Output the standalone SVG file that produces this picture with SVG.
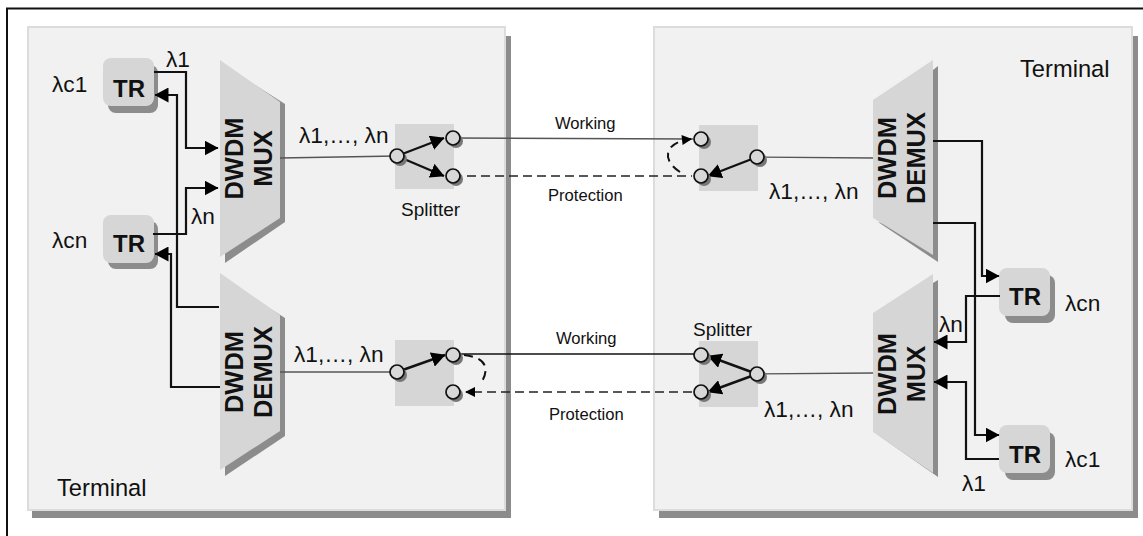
<svg xmlns="http://www.w3.org/2000/svg" width="1143" height="536" viewBox="0 0 1143 536">
<style>
text{font-family:"Liberation Sans",Arial,sans-serif;fill:#111}
.t{font-size:23.700px}
.l{font-size:22.700px}
.s{font-size:16.600px}
.sp{font-size:19px}
.b{font-size:24px;font-weight:bold}
.m{font-size:25.500px;font-weight:bold;text-anchor:middle}
.w{fill:none;stroke:#111;stroke-width:2.200}
.f{fill:none;stroke:#555;stroke-width:1.300}
.d{fill:none;stroke:#222;stroke-width:1.700;stroke-dasharray:9 5}
.a{fill:none;stroke:#111;stroke-width:2;stroke-dasharray:9 6}
.sw{fill:none;stroke:#111;stroke-width:2.400}
.box{fill:#d6d6d6}
.sh{fill:#8c8c8c}
.panel{fill:#f1f1f1;stroke:#dcdcdc;stroke-width:2}
.c{fill:#d8d8d8;stroke:#111;stroke-width:1.700}
.cs{fill:#777}
.tr{fill:#d6d6d6}
</style>
<defs>
<marker id="a" viewBox="0 0 14 15" refX="13.500" refY="7.500" markerWidth="14" markerHeight="15" markerUnits="userSpaceOnUse" orient="auto"><path d="M0 0L14 7.500L0 15Z" fill="#000"/></marker>
<marker id="a2" viewBox="0 0 10 10" refX="9" refY="5" markerWidth="11" markerHeight="10" markerUnits="userSpaceOnUse" orient="auto"><path d="M0 0L10 5L0 10Z" fill="#000"/></marker>
</defs>
<rect width="1143" height="536" fill="#fff"/>
<path d="M7 536V8.500H1143" fill="none" stroke="#111" stroke-width="2"/>
<g id="terminal-left"><rect class="sh" x="32" y="36" width="479" height="482"/><rect class="panel" x="28" y="27" width="477" height="483"/><text class="t" x="57" y="496">Terminal</text></g>
<g id="terminal-right"><rect class="sh" x="659" y="36" width="479" height="482"/><rect class="panel" x="654" y="27" width="478" height="483"/><text class="t" x="1020" y="77">Terminal</text></g>
<g id="mux-left"><path class="sh" d="M225 66L285 104V222L225 263Z"/><path class="box" d="M220 60L280 102V218L220 257Z"/><text class="m" transform="translate(243 158.500) rotate(-90)">DWDM</text><text class="m" transform="translate(272 158.500) rotate(-90)">MUX</text></g>
<g id="demux-left"><path class="sh" d="M225 280L285 318V436L225 476Z"/><path class="box" d="M220 273L280 315V431L220 470Z"/><text class="m" transform="translate(243 372) rotate(-90)">DWDM</text><text class="m" transform="translate(272 372) rotate(-90)">DEMUX</text></g>
<g id="demux-right"><path class="sh" d="M933 70L938 66V262L878 222L933 240Z"/><path class="box" d="M873 100L933 60V255L873 218Z"/><text class="m" transform="translate(896 158) rotate(-90)">DWDM</text><text class="m" transform="translate(925 158) rotate(-90)">DEMUX</text></g>
<g id="mux-right"><path class="sh" d="M933 283L938 280V477L878 435L933 460Z"/><path class="box" d="M873 313L933 274V473L873 432Z"/><text class="m" transform="translate(896 374) rotate(-90)">DWDM</text><text class="m" transform="translate(925 374) rotate(-90)">MUX</text></g>
<g id="tr-c1-left"><rect class="sh" x="108" y="65" width="50" height="48" rx="8"/><rect class="tr" x="103" y="58" width="51" height="48" rx="8"/><text class="b" x="113" y="97">TR</text><text class="l" x="52" y="92">λc1</text></g>
<g id="tr-cn-left"><rect class="sh" x="108" y="221" width="50" height="48" rx="8"/><rect class="tr" x="103" y="215" width="51" height="48" rx="8"/><text class="b" x="113" y="252">TR</text><text class="l" x="52" y="248">λcn</text></g>
<g id="tr-cn-right"><rect class="sh" x="1005" y="275" width="50" height="48" rx="8"/><rect class="tr" x="999" y="268" width="51" height="48" rx="8"/><text class="b" x="1009" y="305">TR</text><text class="l" x="1065" y="311">λcn</text></g>
<g id="tr-c1-right"><rect class="sh" x="1005" y="432" width="50" height="48" rx="8"/><rect class="tr" x="999" y="425" width="51" height="48" rx="8"/><text class="b" x="1009" y="463">TR</text><text class="l" x="1065" y="467">λc1</text></g>
<g id="switch-lt"><rect class="box" x="395" y="124" width="59" height="65"/></g>
<g id="switch-rt"><rect class="box" x="699" y="125" width="59" height="66"/></g>
<g id="switch-lb"><rect class="box" x="395" y="340" width="59" height="66"/></g>
<g id="switch-rb"><rect class="box" x="699" y="341" width="59" height="66"/></g>
<g id="connectors">
<path class="w" d="M154 72H186V148H218" marker-end="url(#a)"/>
<path class="w" d="M219 307H177V95H155" marker-end="url(#a)"/>
<path class="w" d="M153 234H186V188H218" marker-end="url(#a)"/>
<path class="w" d="M220 387H171V254H155" marker-end="url(#a)"/>
<path class="w" d="M933 141H982V276H999" marker-end="url(#a)"/>
<path class="w" d="M933 223H975V435H999" marker-end="url(#a)"/>
<path class="w" d="M1000 296H966V342H934" marker-end="url(#a)"/>
<path class="w" d="M999 459H966V382H934" marker-end="url(#a)"/>
<path class="f" d="M280 158L397 156"/><path class="f" d="M280 372L397 372"/>
<path class="f" d="M757 157L873 158"/><path class="f" d="M757 374L873 373"/>
<path class="f" d="M453 138L693 139"/>
<path class="d" d="M453 176H692"/>
<path class="f" style="stroke:#111;stroke-width:1.600" d="M453 354H701"/>
<path class="d" d="M692 392H466" marker-end="url(#a2)"/>
<path class="a" d="M680 172C661 160 664 142 691 139" marker-end="url(#a2)"/>
<path class="a" d="M464 355C490 358 488 372 481 383"/>
<path class="sw" d="M397 156L444 138" marker-end="url(#a)"/>
<path class="sw" d="M397 156L444 176" marker-end="url(#a)"/>
<path class="sw" d="M757 157L708 176" marker-end="url(#a)"/>
<path class="sw" d="M397 372L445 355" marker-end="url(#a)"/>
<path class="sw" d="M757 374L708 356" marker-end="url(#a)"/>
<path class="sw" d="M757 374L708 392" marker-end="url(#a)"/>
</g>
<g id="ports">
<circle class="cs" cx="400" cy="159" r="7"/><circle class="c" cx="397" cy="156" r="7"/>
<circle class="cs" cx="456" cy="141" r="7"/><circle class="c" cx="453" cy="138" r="7"/>
<circle class="cs" cx="456" cy="179" r="7"/><circle class="c" cx="453" cy="176" r="7"/>
<circle class="cs" cx="704" cy="142" r="7"/><circle class="c" cx="701" cy="139" r="7"/>
<circle class="cs" cx="704" cy="179" r="7"/><circle class="c" cx="701" cy="176" r="7"/>
<circle class="cs" cx="760" cy="160" r="7"/><circle class="c" cx="757" cy="157" r="7"/>
<circle class="cs" cx="400" cy="375" r="7"/><circle class="c" cx="397" cy="372" r="7"/>
<circle class="cs" cx="456" cy="358" r="7"/><circle class="c" cx="453" cy="355" r="7"/>
<circle class="cs" cx="456" cy="395" r="7"/><circle class="c" cx="453" cy="392" r="7"/>
<circle class="cs" cx="704" cy="358" r="7"/><circle class="c" cx="701" cy="355" r="7"/>
<circle class="cs" cx="704" cy="395" r="7"/><circle class="c" cx="701" cy="392" r="7"/>
<circle class="cs" cx="760" cy="377" r="7"/><circle class="c" cx="757" cy="374" r="7"/>
</g>
<g id="labels">
<text class="l" x="166" y="67">λ1</text><text class="l" x="191" y="224">λn</text>
<text class="l" x="939" y="332">λn</text><text class="l" x="962" y="491">λ1</text>
<text class="l" x="299" y="143">λ1,…, λn</text><text class="l" x="294" y="362">λ1,…, λn</text>
<text class="l" x="769" y="199">λ1,…, λn</text><text class="l" x="764" y="417">λ1,…, λn</text>
<text class="s" x="555" y="129">Working</text><text class="s" x="556" y="344">Working</text>
<text class="s" x="548" y="201">Protection</text><text class="s" x="549" y="420">Protection</text>
<text class="sp" x="401" y="216">Splitter</text><text class="sp" x="693" y="336">Splitter</text>
</g>
</svg>
